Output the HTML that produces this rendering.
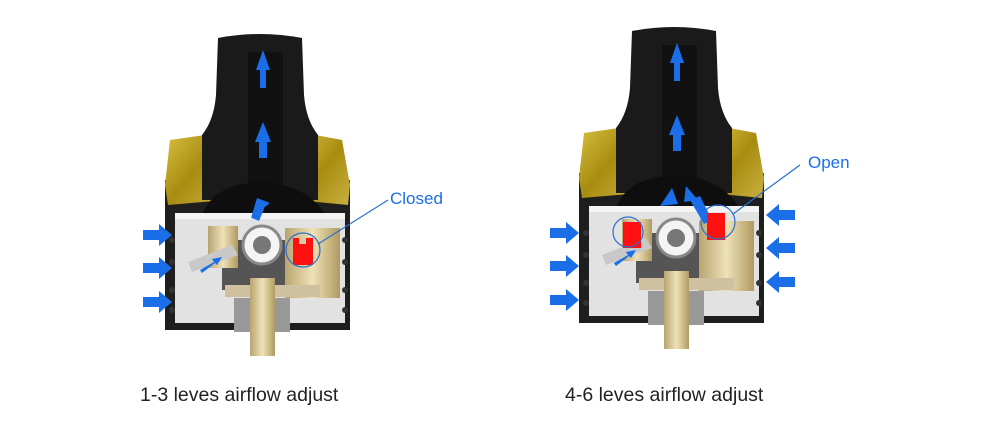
<!DOCTYPE html>
<html><head><meta charset="utf-8"><style>
html,body{margin:0;padding:0;background:#fff;}
svg{display:block;font-family:"Liberation Sans",sans-serif;}
</style></head><body>
<svg width="1000" height="433" viewBox="0 0 1000 433" xmlns="http://www.w3.org/2000/svg">
<defs>
<linearGradient id="yel" x1="0" y1="0" x2="1" y2="1">
<stop offset="0" stop-color="#d8c040"/><stop offset="0.5" stop-color="#a88c10"/><stop offset="1" stop-color="#c9b040"/></linearGradient>
<linearGradient id="brass" x1="0" x2="1"><stop offset="0" stop-color="#b8a470"/><stop offset="0.5" stop-color="#efe2b8"/><stop offset="1" stop-color="#b09a60"/></linearGradient>
<g id="dev">
 <rect x="165" y="180" width="185" height="150" fill="#1e1e1e"/>
 <path d="M170,140 L212,134 L226,146 L226,200 L168,205 L165,185 Z" fill="url(#yel)"/>
 <path d="M296,146 L310,134 L342,140 L350,185 L348,205 L296,200 Z" fill="url(#yel)"/>
 <path d="M218,38 Q260,30 302,38 L304,95 Q306,120 318,135 L318,200 L202,200 L202,135 Q214,120 216,95 Z" fill="#1a1a1a"/>
 <rect x="248" y="52" width="35" height="135" fill="#111"/>
 <path d="M200,225 Q205,185 260,182 Q315,185 330,225 Z" fill="#0e0e0e"/>
 <rect x="175" y="213" width="170" height="110" fill="#e2e2e2"/>
 <rect x="175" y="213" width="170" height="6" fill="#f4f4f4"/>
 <rect x="222" y="240" width="85" height="50" fill="#555"/>
 <rect x="208" y="226" width="30" height="42" fill="url(#brass)"/>
 <rect x="285" y="228" width="55" height="70" fill="url(#brass)"/>
 <rect x="225" y="285" width="95" height="12" fill="#cfc0a0"/>
 <circle cx="262" cy="245" r="19" fill="#f4f4f4" stroke="#888" stroke-width="3"/>
 <circle cx="262" cy="245" r="9" fill="#777"/>
 <path d="M188,262 L232,245 L238,255 L192,272 Z" fill="#c8c8c8"/>
 <rect x="234" y="298" width="56" height="34" fill="#999"/>
 <rect x="250" y="278" width="25" height="78" fill="url(#brass)"/>
 <g fill="#333"><circle cx="172" cy="240" r="3"/><circle cx="172" cy="262" r="3"/><circle cx="172" cy="290" r="3"/><circle cx="172" cy="310" r="3"/>
 <circle cx="345" cy="240" r="3"/><circle cx="345" cy="262" r="3"/><circle cx="345" cy="290" r="3"/><circle cx="345" cy="310" r="3"/></g>
 <g fill="#1a6fe8">
  <path d="M256,70 L263,50 L270,70 L266,70 L266,88 L260,88 L260,70 Z"/>
  <path d="M255,142 L263,122 L271,142 L267,142 L267,158 L259,158 L259,142 Z"/>
  <path d="M200,270 L214,262 L212,259 L222,257 L217,265 L215,263 L202,273 Z"/>
 </g>
</g>
<g id="arR"><path d="M0,-5 L16,-5 L16,-11 L29,0 L16,11 L16,5 L0,5 Z" fill="#1a6fe8"/></g>
</defs>

<use href="#dev"/>
<use href="#dev" transform="translate(414,-7)"/>

<path d="M251,218 L257,198 L270,203 Z" fill="#1a6fe8"/>
<rect x="254" y="206" width="8" height="14" fill="#1a6fe8" transform="rotate(22 258 213)"/>
<rect x="293" y="238" width="20" height="27" fill="#ff1010"/>
<rect x="299" y="238" width="7" height="6" fill="#d8c9a0"/>
<circle cx="303" cy="250" r="17" fill="none" stroke="#2a6fd0" stroke-width="1.2"/>
<line x1="318" y1="244" x2="388" y2="200" stroke="#2a6fd0" stroke-width="1.2"/>
<text x="390" y="204" font-size="17" fill="#1a6fe8">Closed</text>
<use href="#arR" transform="translate(143,235)"/>
<use href="#arR" transform="translate(143,268)"/>
<use href="#arR" transform="translate(143,302)"/>

<path d="M660,206 L672,188 L678,204 Z" fill="#1a6fe8"/>
<path d="M684,202 L686,186 L698,200 Z" fill="#1a6fe8"/>
<path d="M690,200 L700,196 L712,220 L704,224 Z" fill="#1a6fe8"/>
<rect x="623" y="222" width="18" height="26" fill="#ff1010"/>
<rect x="707" y="213" width="18" height="27" fill="#ff1010"/>
<circle cx="628" cy="232" r="15" fill="none" stroke="#2a6fd0" stroke-width="1.2"/>
<circle cx="718" cy="222" r="17" fill="none" stroke="#2a6fd0" stroke-width="1.2"/>
<line x1="733" y1="214" x2="800" y2="165" stroke="#2a6fd0" stroke-width="1.2"/>
<text x="808" y="168" font-size="17" fill="#1a6fe8">Open</text>
<use href="#arR" transform="translate(550,233)"/>
<use href="#arR" transform="translate(550,266)"/>
<use href="#arR" transform="translate(550,300)"/>
<use href="#arR" transform="translate(795,215) scale(-1,1)"/>
<use href="#arR" transform="translate(795,248) scale(-1,1)"/>
<use href="#arR" transform="translate(795,282) scale(-1,1)"/>

<text x="140" y="401" font-size="19.5" fill="#222">1-3 leves airflow adjust</text>
<text x="565" y="401" font-size="19.5" fill="#222">4-6 leves airflow adjust</text>
</svg>
</body></html>
